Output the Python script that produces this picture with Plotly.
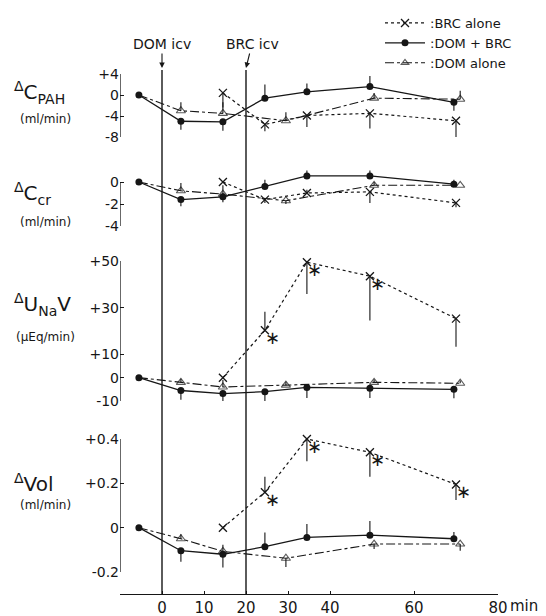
import plotly.graph_objects as go

# ---------------- data ----------------
x_dom_brc = [-5.5, 4.5, 14.5, 24.5, 34.5, 49.5, 69.5]
x_brc = [14.5, 24.5, 34.5, 49.5, 70]
x_dom = [-5.5, 4.5, 14.5, 29.5, 50.5, 71]

# delta C_PAH (ml/min)
pah_dom_brc = [0, -5.0, -5.1, -0.6, 0.6, 1.6, -1.4]
pah_dom_brc_up = [0, 0, 0, 2.6, 1.6, 2.0, 0]
pah_dom_brc_dn = [0, 1.6, 1.7, 0, 0, 0, 1.6]
pah_brc = [0.4, -5.6, -3.9, -3.5, -4.9]
pah_brc_up = [0, 0, 0, 0, 0]
pah_brc_dn = [2.8, 1.3, 2.2, 2.9, 3.4]
pah_dom = [0, -3.0, -3.5, -4.9, -0.6, -0.8]
pah_dom_up = [0, 1.6, 2.1, 1.6, 1.0, 1.6]
pah_dom_dn = [0, 0, 0, 0, 0, 0]

# delta C_cr (ml/min)
cr_dom_brc = [0, -1.6, -1.35, -0.4, 0.55, 0.55, -0.2]
cr_dom_brc_up = [0, 0, 0, 0.6, 0.5, 0.5, 0.4]
cr_dom_brc_dn = [0, 0.6, 0.5, 0, 0, 0, 0]
cr_brc = [0, -1.6, -1.0, -0.9, -1.9]
cr_brc_up = [0, 0, 0.3, 0, 0]
cr_brc_dn = [0, 0.3, 0, 1.0, 0.4]
cr_dom = [0, -0.8, -1.1, -1.7, -0.3, -0.3]
cr_dom_up = [0, 0.7, 0.8, 0, 0.3, 0]
cr_dom_dn = [0, 0, 0, 0.3, 0, 0]

# delta U_Na V (uEq/min)
una_dom_brc = [0, -5.5, -6.8, -6.0, -4.2, -4.5, -5.0]
una_dom_brc_up = [0, 0, 0, 0, 0, 0, 0]
una_dom_brc_dn = [0, 4.0, 4.3, 4.0, 4.5, 4.2, 3.8]
una_brc = [0, 20.3, 49.5, 43.5, 25.3]
una_brc_up = [0, 8, 0, 0, 0]
una_brc_dn = [0, 0, 13.6, 19, 12]
una_dom = [0, -2.0, -4.0, -3.2, -2.0, -2.4]
una_dom_up = [0, 1.5, 3.0, 1.5, 1.2, 1.2]
una_dom_dn = [0, 0, 0, 0, 0, 0]
una_sig = ["", "∗", "∗", "∗", ""]

# delta Vol (ml/min)
vol_dom_brc = [0, -0.104, -0.12, -0.086, -0.044, -0.034, -0.05]
vol_dom_brc_up = [0, 0, 0, 0.064, 0.06, 0.064, 0.03]
vol_dom_brc_dn = [0, 0.05, 0.06, 0, 0, 0, 0]
vol_brc = [0, 0.16, 0.40, 0.34, 0.195]
vol_brc_up = [0, 0.07, 0, 0, 0]
vol_brc_dn = [0, 0, 0.1, 0.11, 0.07]
vol_dom = [0, -0.05, -0.107, -0.138, -0.074, -0.074]
vol_dom_up = [0, 0.02, 0.03, 0, 0, 0]
vol_dom_dn = [0, 0, 0, 0.04, 0.022, 0.03]
vol_sig = ["", "∗", "∗", "∗", "∗"]

x_tickvals = [0, 10, 20, 30, 40, 60, 80]
x_ticktext = ["0", "10", "20", "30", "40", "60", "80"]

pah_ticks = [4, 0, -4, -8]
pah_ticktext = ["+4", "0", "-4", "-8"]
cr_ticks = [0, -2, -4]
cr_ticktext = ["0", "-2", "-4"]
una_ticks = [50, 30, 10, 0, -10]
una_ticktext = ["+50", "+30", "+10", "0", "-10"]
vol_ticks = [0.4, 0.2, 0, -0.2]
vol_ticktext = ["+0.4", "+0.2", "0", "-0.2"]

injections = [("DOM icv", 0), ("BRC icv", 20)]

# ---------------- layout helpers ----------------
# the page puts the figure 8px in from the top-left corner, so the figure is
# made 8px smaller and all page-pixel positions are shifted by that offset
OFF = 8
W, H = 546 - OFF, 616 - OFF
ML, MR, MT, MB = 120 - OFF, 48, 40 - OFF, 22
PW, PH = W - ML - MR, H - MT - MB
FONT = "DejaVu Sans"
INK = "#161616"


def py(p):
    """page pixel y (from top) -> paper fraction"""
    return (H - MB - (p - OFF)) / PH


def px(p):
    """page pixel x -> paper fraction"""
    return (p - OFF - ML) / PW


panels = [
    dict(ax="y", top=74, bot=137, rng=[-8, 4], head=0.0, tv=pah_ticks, tt=pah_ticktext,
         s_dombrc=(pah_dom_brc, pah_dom_brc_up, pah_dom_brc_dn),
         s_brc=(pah_brc, pah_brc_up, pah_brc_dn),
         s_dom=(pah_dom, pah_dom_up, pah_dom_dn), sig=None),
    dict(ax="y2", top=182, bot=226, rng=[-4, 0], head=1.2, tv=cr_ticks, tt=cr_ticktext,
         s_dombrc=(cr_dom_brc, cr_dom_brc_up, cr_dom_brc_dn),
         s_brc=(cr_brc, cr_brc_up, cr_brc_dn),
         s_dom=(cr_dom, cr_dom_up, cr_dom_dn), sig=None),
    dict(ax="y3", top=261, bot=401, rng=[-10, 50], head=0.0, tv=una_ticks, tt=una_ticktext,
         s_dombrc=(una_dom_brc, una_dom_brc_up, una_dom_brc_dn),
         s_brc=(una_brc, una_brc_up, una_brc_dn),
         s_dom=(una_dom, una_dom_up, una_dom_dn), sig=una_sig),
    dict(ax="y4", top=439, bot=572, rng=[-0.2, 0.4], head=0.0, tv=vol_ticks, tt=vol_ticktext,
         s_dombrc=(vol_dom_brc, vol_dom_brc_up, vol_dom_brc_dn),
         s_brc=(vol_brc, vol_brc_up, vol_brc_dn),
         s_dom=(vol_dom, vol_dom_up, vol_dom_dn), sig=vol_sig),
]

fig = go.Figure()


def err(up, dn):
    return dict(type="data", symmetric=False, array=up, arrayminus=dn,
                width=0, thickness=1.1, color=INK)


for i, p in enumerate(panels):
    first = i == 0
    y, up, dn = p["s_brc"]
    fig.add_trace(go.Scatter(
        x=x_brc, y=y, yaxis=p["ax"], mode="lines+markers", name=":BRC alone",
        legendgroup="brc", showlegend=first, legendrank=1,
        line=dict(color=INK, width=1.2, dash="dot"),
        marker=dict(symbol="x-thin", size=8, line=dict(color=INK, width=1.3)),
        error_y=err(up, dn), cliponaxis=False))
    y, up, dn = p["s_dombrc"]
    fig.add_trace(go.Scatter(
        x=x_dom_brc, y=y, yaxis=p["ax"], mode="lines+markers", name=":DOM + BRC",
        legendgroup="dombrc", showlegend=first, legendrank=2,
        line=dict(color=INK, width=1.3),
        marker=dict(symbol="circle", size=7, color=INK),
        error_y=err(up, dn), cliponaxis=False))
    y, up, dn = p["s_dom"]
    sizes = [0] + [8] * (len(y) - 1)
    fig.add_trace(go.Scatter(
        x=x_dom, y=y, yaxis=p["ax"], mode="lines+markers", name=":DOM alone",
        legendgroup="dom", showlegend=first, legendrank=3,
        line=dict(color=INK, width=1.1, dash="dashdot"),
        marker=dict(symbol="triangle-up-open", size=sizes, color=INK,
                    line=dict(color=INK, width=1.1)),
        error_y=err(up, dn), cliponaxis=False))
    if p["sig"] is not None:
        fig.add_trace(go.Scatter(
            x=x_brc, y=p["s_brc"][0], yaxis=p["ax"], mode="text", text=p["sig"],
            textposition="bottom right", showlegend=False, hoverinfo="skip",
            textfont=dict(size=18, color=INK, family=FONT), cliponaxis=False))

layout = dict(
    width=W, height=H,
    margin=dict(l=ML, r=MR, t=MT, b=MB, autoexpand=False),
    paper_bgcolor="white", plot_bgcolor="white",
    font=dict(family=FONT, color=INK, size=14),
    showlegend=True,
    legend=dict(x=px(380), y=py(8), xanchor="left", yanchor="top",
                font=dict(size=13, family=FONT), bgcolor="rgba(0,0,0,0)",
                tracegroupgap=0, itemwidth=40),
    xaxis=dict(range=[-10, 80], domain=[0, 1], anchor="free", position=0,
               showline=True, linecolor=INK, linewidth=1.3,
               ticks="inside", ticklen=3, tickcolor=INK,
               tickvals=x_tickvals, ticktext=x_ticktext,
               tickfont=dict(size=15), showgrid=False, zeroline=False),
)

shapes = []
for i, p in enumerate(panels):
    key = "yaxis" if i == 0 else "yaxis%d" % (i + 1)
    lo, hi = p["rng"]
    scale = (p["bot"] - p["top"]) / (hi - lo)  # px per unit
    top_px = p["top"] - p["head"] * scale
    layout[key] = dict(domain=[py(p["bot"]), py(top_px)], range=[lo, hi + p["head"]],
                       anchor="x", showline=False,
                       ticks="inside", ticklen=4, tickcolor=INK, tickwidth=1.2,
                       tickvals=p["tv"], ticktext=p["tt"],
                       tickfont=dict(size=14), showgrid=False, zeroline=False)
    # bracket-style axis line spanning only the labelled range
    shapes.append(dict(type="line", xref="x", yref=p["ax"], x0=-10, x1=-10,
                       y0=lo, y1=hi, line=dict(color=INK, width=1.3)))

fig.update_layout(**layout)

annotations = []
for label, t in injections:
    shapes.append(dict(type="line", xref="x", yref="paper", x0=t, x1=t,
                       y0=0, y1=py(70), line=dict(color=INK, width=1.4)))
    annotations.append(dict(xref="x", yref="paper", x=t, y=py(68), text=label,
                            showarrow=True, ax=6 if t else 0, ay=-24,
                            arrowhead=2, arrowsize=1, arrowwidth=1.1,
                            arrowcolor=INK, standoff=0,
                            font=dict(size=14, family=FONT, color=INK)))

ylabels = [
    ("<sup>Δ</sup>C<sub>PAH</sub>", 92, "(ml/min)", 119),
    ("<sup>Δ</sup>C<sub>cr</sub>", 193, "(ml/min)", 222),
    ("<sup>Δ</sup>U<sub>Na</sub>V", 304, "(µEq/min)", 337),
    ("<sup>Δ</sup>Vol", 483, "(ml/min)", 505),
]
for main, my, unit, uy in ylabels:
    annotations.append(dict(xref="paper", yref="paper", x=px(12), y=py(my),
                            xanchor="left", yanchor="middle", showarrow=False,
                            text=main, font=dict(size=20, family=FONT, color=INK)))
    annotations.append(dict(xref="paper", yref="paper", x=px(45), y=py(uy),
                            xanchor="center", yanchor="middle", showarrow=False,
                            text=unit, font=dict(size=12, family=FONT, color=INK)))

annotations.append(dict(xref="x", yref="paper", x=80, y=py(606),
                        xanchor="left", yanchor="middle", xshift=10, showarrow=False,
                        text="min", font=dict(size=15, family=FONT, color=INK)))

fig.update_layout(shapes=shapes, annotations=annotations)

fig.write_html("out.html")
